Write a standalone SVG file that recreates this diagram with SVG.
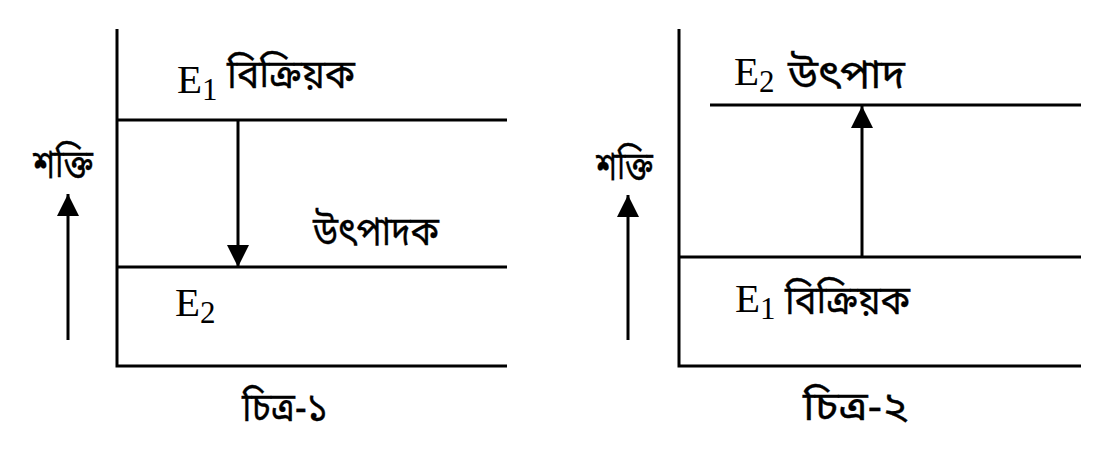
<svg xmlns="http://www.w3.org/2000/svg" width="1099" height="454" viewBox="0 0 1099 454">
<defs>
<style>
.ln{stroke:#000;stroke-width:3;fill:none}
.ar{stroke:#000;stroke-width:3;fill:none;marker-end:url(#ah)}
.en{font-family:"Liberation Serif","Times New Roman",serif;font-size:41px;fill:#000}
.sub{font-size:31px}
.bn{font-family:"Noto Sans Bengali","Noto Serif Bengali","Lohit Bengali","Noto Sans",sans-serif;font-size:40px;font-weight:normal;fill:#000;stroke:#000;stroke-width:0.35}
</style>
<marker id="ah" markerUnits="userSpaceOnUse" markerWidth="22" markerHeight="22" refX="22" refY="11" orient="auto">
<path d="M0,0 L22,11 L0,22 Z" fill="#000"/>
</marker>
</defs>
<rect width="1099" height="454" fill="#fff"/>
<g id="fig1">
<g id="fig1-frame">
<polyline class="ln" points="117,29 117,366 507,366"/>
</g>
<g id="fig1-level-e1">
<line class="ln" x1="117" y1="120" x2="507" y2="120"/>
<text class="en" x="177" y="93">E<tspan class="sub" dy="7">1</tspan></text>
<text class="bn" x="227" y="88" textLength="128" lengthAdjust="spacingAndGlyphs">বিক্রিয়ক</text>
</g>
<g id="fig1-level-e2">
<line class="ln" x1="117" y1="267" x2="507" y2="267"/>
<text class="en" x="175" y="316">E<tspan class="sub" dy="7">2</tspan></text>
<text class="bn" x="313" y="245" textLength="126" lengthAdjust="spacingAndGlyphs">উৎপাদক</text>
</g>
<g id="fig1-energy">
<text class="bn" x="33" y="178" textLength="60" lengthAdjust="spacingAndGlyphs">শক্তি</text>
</g>
<text class="bn" x="242" y="421" textLength="86" lengthAdjust="spacingAndGlyphs">চিত্র-১</text>
</g>
<g id="fig2">
<g id="fig2-frame">
<polyline class="ln" points="679,29 679,366 1081,366"/>
</g>
<g id="fig2-level-e2">
<line class="ln" x1="710" y1="105" x2="1081" y2="105"/>
<text class="en" x="734" y="85">E<tspan class="sub" dy="7">2</tspan></text>
<text class="bn" x="788" y="88" textLength="117" lengthAdjust="spacingAndGlyphs">উৎপাদ</text>
</g>
<g id="fig2-level-e1">
<line class="ln" x1="679" y1="257" x2="1081" y2="257"/>
<text class="en" x="735" y="312">E<tspan class="sub" dy="7">1</tspan></text>
<text class="bn" x="785" y="314" textLength="125" lengthAdjust="spacingAndGlyphs">বিক্রিয়ক</text>
</g>
<g id="fig2-energy">
<text class="bn" x="596" y="180" textLength="57" lengthAdjust="spacingAndGlyphs">শক্তি</text>
</g>
<text class="bn" x="803" y="420" textLength="105" lengthAdjust="spacingAndGlyphs">চিত্র-২</text>
</g>
<g id="connectors">
<line class="ar" x1="238" y1="121" x2="238" y2="267"/>
<line class="ar" x1="68" y1="340" x2="68" y2="194"/>
<line class="ar" x1="862" y1="257" x2="862" y2="106"/>
<line class="ar" x1="628" y1="340" x2="628" y2="195"/>
</g>
</svg>
